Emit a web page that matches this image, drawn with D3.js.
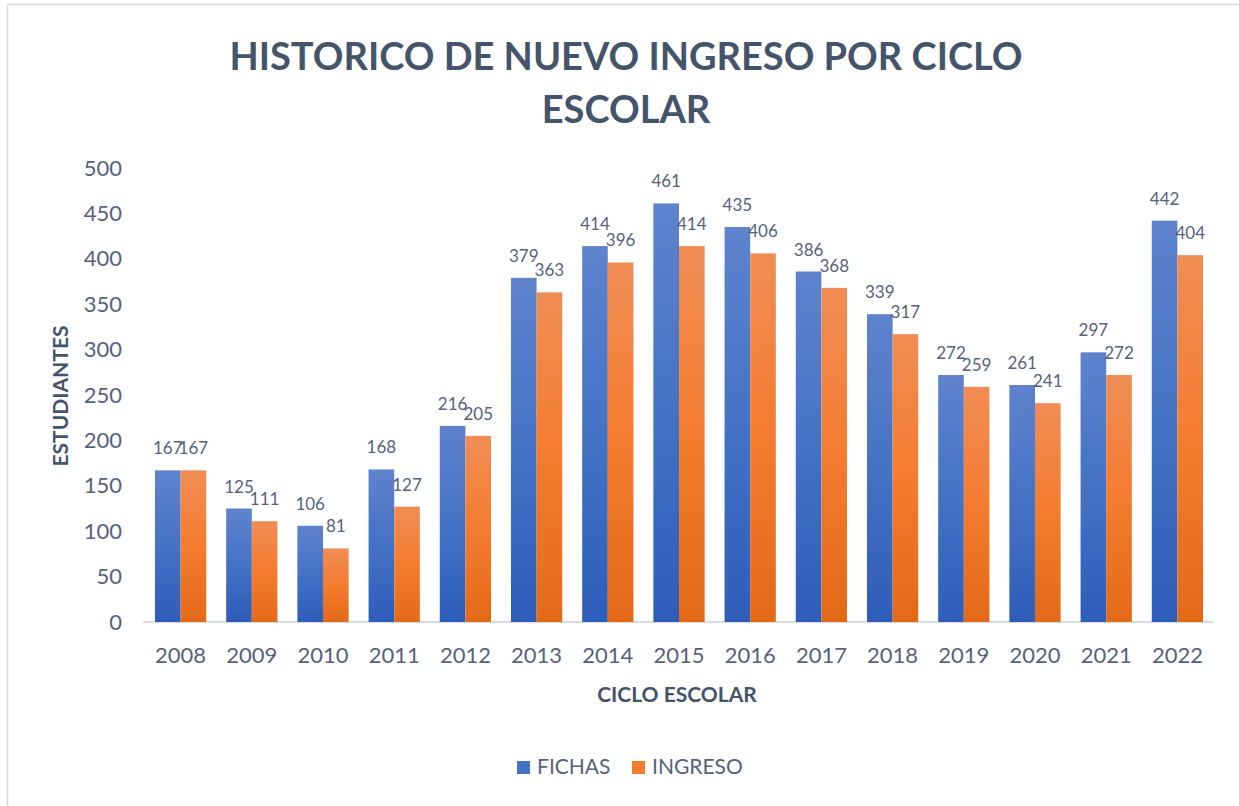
<!DOCTYPE html>
<html>
<head>
<meta charset="utf-8">
<script src="https://cdn.jsdelivr.net/npm/d3@7"></script>
<style>
  body { margin: 0; background: #fff; }
  text { font-family: Lato, "Open Sans", sans-serif; }
</style>
</head>
<body>
<script>
var width = 1239, height = 806;

var ciclos = ["2008","2009","2010","2011","2012","2013","2014","2015","2016","2017","2018","2019","2020","2021","2022"];
var fichas = [167,125,106,168,216,379,414,461,435,386,339,272,261,297,442];
var ingreso = [167,111,81,127,205,363,396,414,406,368,317,259,241,272,404];
var yTicks = [0,50,100,150,200,250,300,350,400,450,500];
var series = ["FICHAS","INGRESO"];

var svg = d3.select("body").append("svg")
    .attr("width", width)
    .attr("height", height);

// gradients (top light -> bottom dark), per bar
var defs = svg.append("defs");
var gradBlue = defs.append("linearGradient").attr("id", "gBlue")
    .attr("x1", 0).attr("y1", 0).attr("x2", 0).attr("y2", 1);
gradBlue.append("stop").attr("offset", "0%").attr("stop-color", "#5f83cd");
gradBlue.append("stop").attr("offset", "50%").attr("stop-color", "#4472c4");
gradBlue.append("stop").attr("offset", "100%").attr("stop-color", "#2e5dba");
var gradOrange = defs.append("linearGradient").attr("id", "gOrange")
    .attr("x1", 0).attr("y1", 0).attr("x2", 0).attr("y2", 1);
gradOrange.append("stop").attr("offset", "0%").attr("stop-color", "#f08d55");
gradOrange.append("stop").attr("offset", "50%").attr("stop-color", "#f47c30");
gradOrange.append("stop").attr("offset", "100%").attr("stop-color", "#e26a17");

// chart border
svg.append("rect")
    .attr("x", 7.5).attr("y", 4.5)
    .attr("width", 1240).attr("height", 810)
    .attr("fill", "none")
    .attr("stroke", "#d9d9d9")
    .attr("stroke-width", 1.5);

var xScale = d3.scaleBand()
    .domain(ciclos)
    .range([145, 1213])
    .paddingInner(0.28)
    .paddingOuter(0.14);

var xSub = d3.scaleBand()
    .domain(series)
    .range([0, xScale.bandwidth()]);

var yScale = d3.scaleLinear()
    .domain([0, 500])
    .range([622, 168]);

// title
var title = svg.append("text")
    .attr("text-anchor", "middle")
    .attr("fill", "#44546a")
    .style("font-size", "38px")
    .style("font-weight", "bold");
title.append("tspan").attr("x", 626).attr("y", 70).text("HISTORICO DE NUEVO INGRESO POR CICLO");
title.append("tspan").attr("x", 626).attr("y", 123).text("ESCOLAR");

// y axis (labels only)
var yAxis = svg.append("g")
    .attr("transform", "translate(122,0)")
    .call(d3.axisLeft(yScale).tickValues(yTicks).tickSize(0).tickPadding(0));
yAxis.select(".domain").remove();
yAxis.selectAll("text")
    .attr("fill", "#56627a")
    .style("font-size", "22px")
    .style("font-family", "Lato, sans-serif");

// x axis
var xAxis = svg.append("g")
    .attr("transform", "translate(0,622)")
    .call(d3.axisBottom(xScale).tickSize(0).tickPadding(25));
xAxis.select(".domain")
    .attr("stroke", "#d9dde3")
    .attr("stroke-width", 2)
    .attr("d", "M143,0H1213");
xAxis.selectAll("text")
    .attr("fill", "#56627a")
    .style("font-size", "22px")
    .style("font-family", "Lato, sans-serif");

// bars
var groups = svg.selectAll(".grupo")
    .data(ciclos)
    .enter()
    .append("g")
    .attr("class", "grupo")
    .attr("transform", function(d) { return "translate(" + xScale(d) + ",0)"; });

var barData = function(d, i) {
    return [
        {serie: "FICHAS", value: fichas[i], fill: "url(#gBlue)"},
        {serie: "INGRESO", value: ingreso[i], fill: "url(#gOrange)"}
    ];
};

groups.selectAll("rect")
    .data(barData)
    .enter()
    .append("rect")
    .attr("x", function(d) { return xSub(d.serie); })
    .attr("y", function(d) { return yScale(d.value); })
    .attr("width", xSub.bandwidth())
    .attr("height", function(d) { return yScale(0) - yScale(d.value); })
    .attr("fill", function(d) { return d.fill; });

groups.selectAll(".valor")
    .data(barData)
    .enter()
    .append("text")
    .attr("class", "valor")
    .attr("text-anchor", "middle")
    .attr("x", function(d) { return xSub(d.serie) + xSub.bandwidth() / 2; })
    .attr("y", function(d) { return yScale(d.value) - 16; })
    .attr("fill", "#56627a")
    .style("font-size", "17px")
    .text(function(d) { return d.value; });

// axis titles
svg.append("text")
    .attr("text-anchor", "middle")
    .attr("transform", "translate(68,396) rotate(-90)")
    .attr("fill", "#44546a")
    .style("font-size", "21px")
    .style("font-weight", "bold")
    .text("ESTUDIANTES");

svg.append("text")
    .attr("text-anchor", "middle")
    .attr("x", 677).attr("y", 702)
    .attr("fill", "#44546a")
    .style("font-size", "21px")
    .style("font-weight", "bold")
    .text("CICLO ESCOLAR");

// legend
var legendX = [517, 632];
var legendFill = ["#4472c4", "#f47c30"];
var legend = svg.selectAll(".leyenda")
    .data(series)
    .enter()
    .append("g")
    .attr("class", "leyenda")
    .attr("transform", function(d, i) { return "translate(" + legendX[i] + ",761)"; });
legend.append("rect")
    .attr("width", 13).attr("height", 13)
    .attr("fill", function(d, i) { return legendFill[i]; });
legend.append("text")
    .attr("x", 20).attr("y", 13)
    .attr("fill", "#56627a")
    .style("font-size", "21px")
    .text(function(d) { return d; });
</script>
</body>
</html>
